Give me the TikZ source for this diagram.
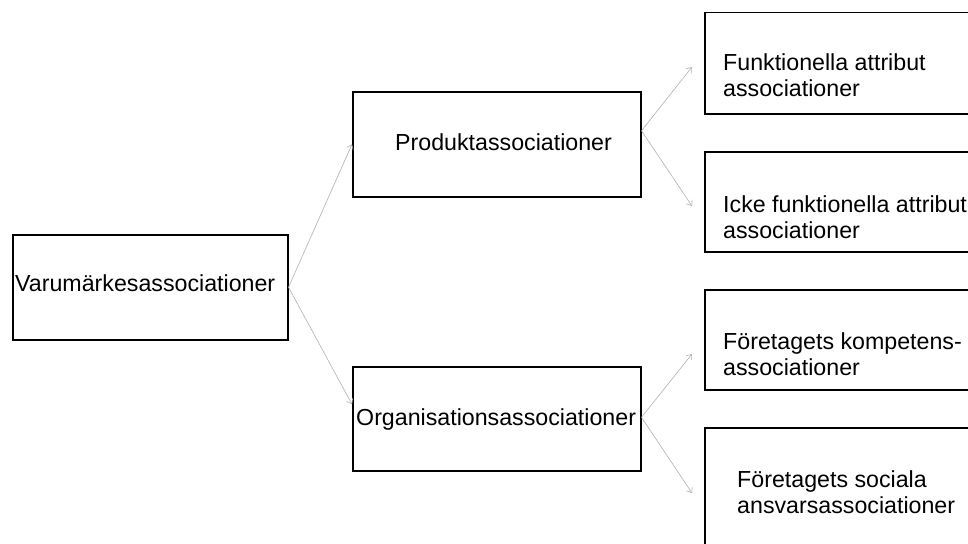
\documentclass[tikz,border=0pt]{standalone}
\usepackage{fontspec}
\setmainfont{Liberation Sans}
\usetikzlibrary{arrows.meta}
\begin{document}
\begin{tikzpicture}[x=1pt,y=-1pt,
  box/.style={draw=black,line width=1.5pt,rectangle,inner sep=0pt,anchor=north west},
  lbl/.style={inner sep=0pt,anchor=base west,align=left,
    font=\fontsize{23.2}{26}\selectfont},
  link/.style={draw=black!30,line width=0.6pt,
    -{Straight Barb[length=4.5pt,width=7pt,line width=0.6pt]}}]
\clip (0,0) rectangle (968,543);
\fill[white] (0,0) rectangle (968,543);

% boxes
\node[box,minimum width=275pt,minimum height=105pt] (brand) at (12,234) {};
\node[box,minimum width=288pt,minimum height=105pt] (prod) at (352,91) {};
\node[box,minimum width=288pt,minimum height=104pt] (org) at (352,366) {};
\node[box,minimum width=290pt,minimum height=101pt] (func) at (704,12) {};
\node[box,minimum width=290pt,minimum height=100pt] (nfunc) at (704,151) {};
\node[box,minimum width=290pt,minimum height=100pt] (comp) at (704,289) {};
\node[box,minimum width=290pt,minimum height=140pt] (soc) at (704,427) {};

% labels
\node[lbl] (brandt) at (15,291) {Varumärkesassociationer};
\node[lbl] (prodt) at (395,150) {Produktassociationer};
\node[lbl] (orgt) at (356,425) {Organisationsassociationer};
\node[lbl] (funct) at (723,96) {Funktionella attribut\\associationer};
\node[lbl] (nfunct) at (723,238) {Icke funktionella attribut\\associationer};
\node[lbl] (compt) at (723,375) {Företagets kompetens-\\associationer};
\node[lbl] (soct) at (737,513) {Företagets sociala\\ansvarsassociationer};

% arrow tips that stop short of the right-hand boxes
\coordinate (funcin) at (692,67);
\coordinate (nfuncin) at (692,206);
\coordinate (compin) at (692,354);
\coordinate (socin) at (692,493);

% connectors
\draw[link] (brand.east) -- (prod.west);
\draw[link] (brand.east) -- ([yshift=14.5pt]org.west);
\draw[link] ([yshift=13.5pt]prod.east) -- (funcin);
\draw[link] ([yshift=13.5pt]prod.east) -- (nfuncin);
\draw[link] ([yshift=1.5pt]org.east) -- (compin);
\draw[link] ([yshift=1.5pt]org.east) -- (socin);
\end{tikzpicture}
\end{document}
